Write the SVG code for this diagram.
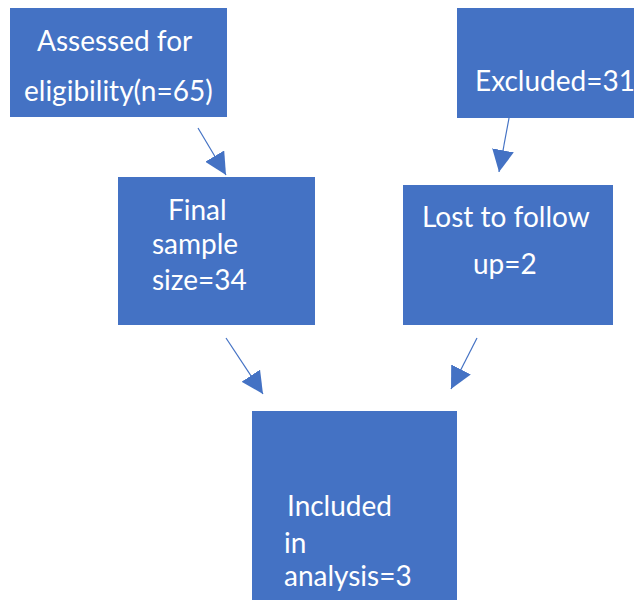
<svg xmlns="http://www.w3.org/2000/svg" width="634" height="600" viewBox="0 0 634 600">
<style>
.box{fill:#4472C4;}
.t{fill:#ffffff;font-family:Lato,"Open Sans","Liberation Sans",sans-serif;font-size:28px;}
.c{stroke:#4472C4;stroke-width:1.2;fill:none;}
</style>
<defs>
<marker id="ah" viewBox="0 0 10 10" refX="10" refY="5" markerWidth="22" markerHeight="22" markerUnits="userSpaceOnUse" orient="auto">
<path d="M0,0 L10,5 L0,10 z" fill="#4472C4"/>
</marker>
</defs>
<rect width="634" height="600" fill="#ffffff"/>
<g id="assessed">
<rect class="box" x="10" y="8" width="217" height="109"/>
<text class="t" x="37" y="51">Assessed for</text>
<text class="t" x="24" y="101">eligibility(n=65)</text>
</g>
<g id="excluded">
<rect class="box" x="457" y="8" width="177" height="110"/>
<text class="t" x="475" y="91">Excluded=31</text>
</g>
<g id="final">
<rect class="box" x="118" y="177" width="197" height="148"/>
<text class="t" x="168" y="220">Final</text>
<text class="t" x="152" y="254">sample</text>
<text class="t" x="152" y="290">size=34</text>
</g>
<g id="lost">
<rect class="box" x="403" y="185" width="210" height="140"/>
<text class="t" x="422" y="227">Lost to follow</text>
<text class="t" x="473" y="274">up=2</text>
</g>
<g id="included">
<rect class="box" x="252" y="411" width="205" height="189"/>
<text class="t" x="287" y="516">Included</text>
<text class="t" x="284" y="553">in</text>
<text class="t" x="284" y="586">analysis=3</text>
</g>
<g id="connectors">
<line class="c" x1="198" y1="128" x2="226" y2="175" marker-end="url(#ah)"/>
<line class="c" x1="509" y1="118" x2="499" y2="172" marker-end="url(#ah)"/>
<line class="c" x1="226" y1="338" x2="263" y2="394" marker-end="url(#ah)"/>
<line class="c" x1="477" y1="338" x2="451" y2="389" marker-end="url(#ah)"/>
</g>
</svg>
